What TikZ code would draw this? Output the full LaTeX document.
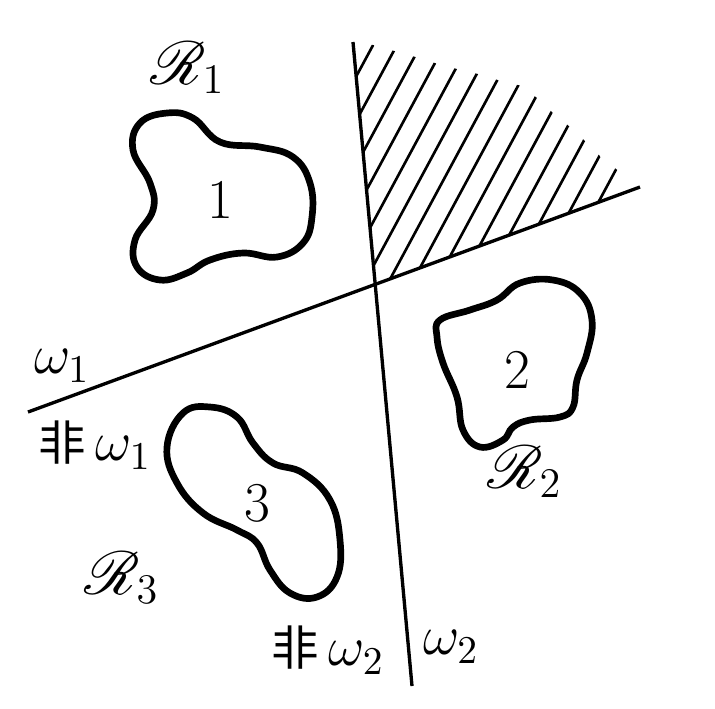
\RequirePackage{fix-cm}
\documentclass[tikz,border=0pt]{standalone}
\usepackage{amsmath,mathrsfs}
\usepackage{fontspec}
\newfontfamily\cjk{Noto Sans CJK SC}
\tikzset{
  bound/.style={line width=0.95pt},
  hatchln/.style={line width=0.75pt},
  blob/.style={line width=1.9pt, line join=round},
  lbl/.style={inner sep=0pt, font=\fontsize{16}{18}\selectfont},
  rlbl/.style={inner sep=0pt, font=\fontsize{17.28}{20}\selectfont}
}
\newcommand{\fei}{{\cjk\fontsize{13.5}{16}\selectfont 非}}

\begin{document}
\begin{tikzpicture}[x=0.1mm, y=-0.1mm]
\useasboundingbox (0,0) rectangle (715,708);
\coordinate (l1a) at (28,412); \coordinate (l1b) at (640,187);
\coordinate (l2a) at (353,42); \coordinate (l2b) at (412,686);
\coordinate (cross) at (intersection of l1a--l1b and l2a--l2b);
\begin{scope}
  \clip (cross) -- (l1b) -- (616,169) -- (601,157) -- (586,142) -- (570,127) -- (553,113) -- (537,98) -- (522,86)
    -- (501,81) -- (478,74) -- (457,69) -- (438,64) -- (419,58) -- (398,52) -- (373,45) -- (l2a) -- cycle;
  \foreach \c in {0,...,13}
    \draw[hatchln] ({0.880*(350+21*\c)+0.474*400},{0.474*(350+21*\c)-0.880*400}) -- ++({-0.474*800},{0.880*800});
\end{scope}
\draw[bound] (l1a) -- (l1b);
\draw[bound] (l2a) -- (l2b);
\draw[blob] plot[smooth cycle, tension=0.7] coordinates {(167,113) (193,118) (220,142) (260,147) (293,157) (310,183) (312,217) (303,243)
  (277,257) (243,253) (210,260) (187,273) (160,280) (137,267) (135,240) (153,210) (150,183) (133,150) (140,123)};
\draw[blob] plot[smooth cycle, tension=0.7] coordinates {(440,320) (470,310) (497,300) (520,283) (553,280) (580,293) (592,320) (587,353)
  (577,380) (573,407) (560,417) (530,420) (513,427) (503,440) (480,447) (463,430) (457,397) (443,363) (437,337)};
\draw[blob] plot[smooth cycle, tension=0.7] coordinates {(183,413) (210,407) (237,417) (253,443) (273,463) (303,473) (330,500) (340,540)
  (337,577) (317,597) (290,593) (270,570) (257,543) (237,530) (203,513) (177,483) (167,447)};
\node[lbl] (n1) at (220,200) {1};
\node[lbl] (n2) at (517,370) {2};
\node[lbl] (n3) at (257,503) {3};
\node[rlbl] (r1) at (188,68) {$\mathscr{R}_1$};
\node[rlbl] (r2) at (525,472) {$\mathscr{R}_2$};
\node[rlbl] (r3) at (122,578) {$\mathscr{R}_3$};
\node[lbl] (w1) at (62,366) {$\omega_1$};
\node[lbl] (nw1) at (95,445) {\fei$\,\omega_1$};
\node[lbl] (nw2) at (328,650) {\fei$\,\omega_2$};
\node[lbl] (w2) at (451,647) {$\omega_2$};
\end{tikzpicture}
\end{document}
